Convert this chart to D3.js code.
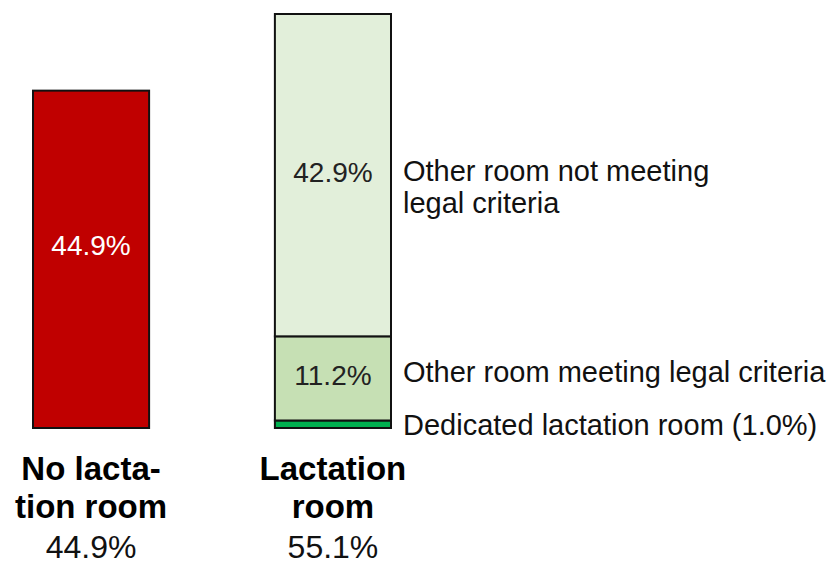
<!DOCTYPE html>
<html>
<head>
<meta charset="utf-8">
<script src="https://cdn.jsdelivr.net/npm/d3@7"></script>
<style>
  body { margin: 0; background: #fff; }
  svg { display: block; }
  text { font-family: "Liberation Sans", Arial, sans-serif; }
</style>
</head>
<body>
<svg id="chart" width="830" height="565"></svg>
<script>
// ---- data ----
const categories = ["No lactation room", "Lactation room"];
const categoryLines = [["No lacta-", "tion room"], ["Lactation", "room"]];
const categoryTotals = [44.9, 55.1];
const segmentNames = ["No lactation room", "Dedicated lactation room", "Other room meeting legal criteria", "Other room not meeting legal criteria"];
const segmentCategory = ["No lactation room", "Lactation room", "Lactation room", "Lactation room"];
const segmentValues = [44.9, 1.0, 11.2, 42.9];
const segmentLegend = [null, ["Dedicated lactation room (1.0%)"], ["Other room meeting legal criteria"], ["Other room not meeting", "legal criteria"]];
const segmentInLabel = [true, false, true, true];
const segmentColors = ["#C00000", "#00B050", "#C6E0B4", "#E2EFDA"];
const segmentTextColors = ["#ffffff", "#222222", "#222222", "#222222"];

// ---- scales ----
const svg = d3.select("#chart");
const x = d3.scaleBand().domain(categories).range([33, 391]).paddingInner(0.52).paddingOuter(0);
const y = d3.scaleLinear().domain([0, 55.1]).range([428, 14]);

// stack within each category
const segs = [];
const acc = {};
segmentValues.forEach((v, i) => {
  const c = segmentCategory[i];
  const y0 = acc[c] || 0;
  const y1 = y0 + v;
  acc[c] = y1;
  segs.push({ i, c, v, y0, y1 });
});

const g = svg.append("g");
g.selectAll("rect.seg").data(segs).enter().append("rect")
  .attr("class", "seg")
  .attr("x", d => x(d.c))
  .attr("width", x.bandwidth())
  .attr("y", d => y(d.y1))
  .attr("height", d => y(d.y0) - y(d.y1))
  .attr("fill", d => segmentColors[d.i])
  .attr("stroke", "#111")
  .attr("stroke-width", 2);

// in-bar labels
const inOffset = [-4, 0, 7, 7];
g.selectAll("text.in").data(segs.filter(d => segmentInLabel[d.i])).enter().append("text")
  .attr("class", "in")
  .attr("x", d => x(d.c) + x.bandwidth() / 2)
  .attr("y", d => (y(d.y0) + y(d.y1)) / 2 + inOffset[d.i])
  .attr("text-anchor", "middle")
  .attr("font-size", 28)
  .attr("fill", d => segmentTextColors[d.i])
  .text(d => d.v.toFixed(1) + "%");

// right-side legend labels
const legOffset = [0, 11, 4, 22];
segs.filter(d => segmentLegend[d.i]).forEach(d => {
  const lines = segmentLegend[d.i];
  const mid = (y(d.y0) + y(d.y1)) / 2;
  const lh = 32;
  const lx = x(d.c) + x.bandwidth() + 12;
  const t = g.append("text")
    .attr("x", lx)
    .attr("font-size", 29)
    .attr("fill", "#111");
  lines.forEach((ln, k) => {
    t.append("tspan")
      .attr("x", lx)
      .attr("y", mid + legOffset[d.i] + (k - (lines.length - 1) / 2) * lh)
      .text(ln);
  });
});

// category labels below
categories.forEach((c, k) => {
  const cx = x(c) + x.bandwidth() / 2;
  categoryLines[k].forEach((ln, j) => {
    g.append("text")
      .attr("x", cx)
      .attr("y", 480 + j * 38)
      .attr("text-anchor", "middle")
      .attr("font-size", 33)
      .attr("font-weight", "bold")
      .attr("fill", "#000")
      .text(ln);
  });
  g.append("text")
    .attr("x", cx)
    .attr("y", 558)
    .attr("text-anchor", "middle")
    .attr("font-size", 32)
    .attr("fill", "#111")
    .text(categoryTotals[k].toFixed(1) + "%");
});
</script>
</body>
</html>
